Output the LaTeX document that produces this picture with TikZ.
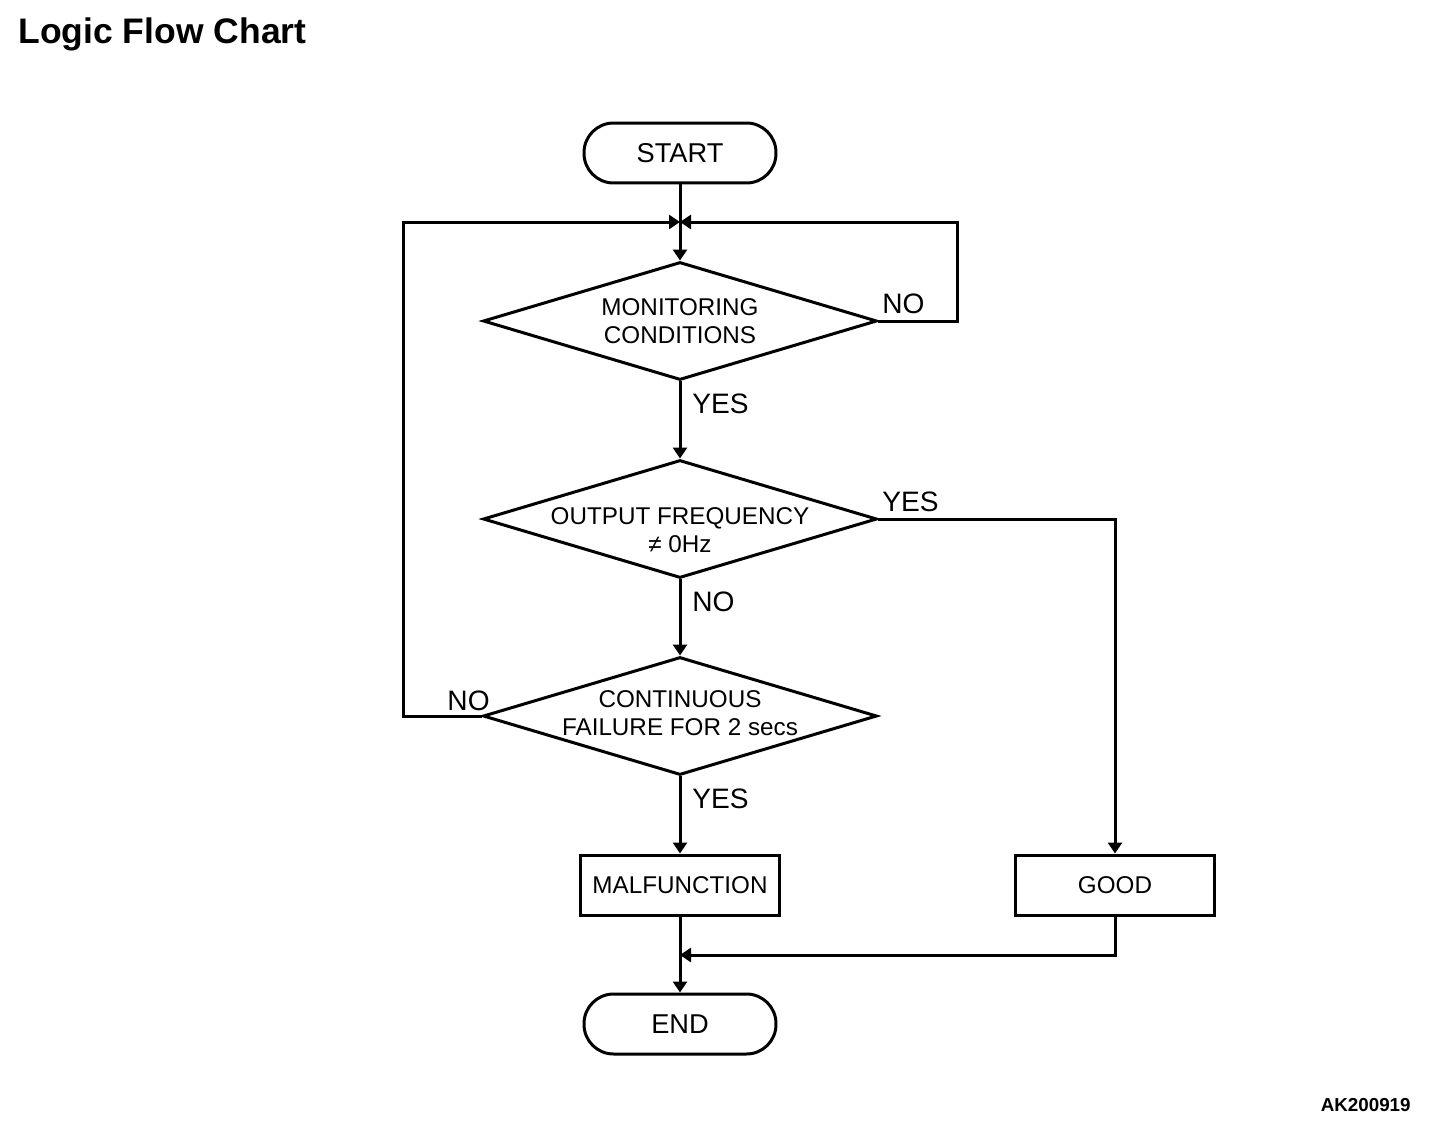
\documentclass[tikz,border=0pt]{standalone}
\usepackage{fontspec}
\setmainfont{Liberation Sans}
\usetikzlibrary{shapes.geometric,arrows.meta}

\tikzset{
	terminal/.style={draw,rounded corners=0.59cm,minimum width=3.84cm,minimum height=1.2cm,inner sep=0pt,font=\fontsize{15.5}{18}\selectfont},
	process/.style={draw,minimum width=3.98cm,minimum height=1.2cm,inner sep=0pt},
	decision/.style={draw,diamond,aspect=3.34,minimum width=7.88cm,minimum height=2.36cm,inner sep=0pt},
	question/.style={align=center,inner sep=0pt},
	answer/.style={font=\fontsize{16}{18}\selectfont},
	flow/.style={-{Triangle[length=0.22cm,width=0.28cm]}}
}

\begin{document}
\begin{tikzpicture}[x=0.02cm,y=-0.02cm,line width=0.06cm,font=\fontsize{13.8}{16}\selectfont]
	\useasboundingbox (0,0) rectangle (1456,1122);

	\node[anchor=west,inner sep=0pt,font=\fontsize{20.2}{24}\selectfont\bfseries] (title) at (17,34) {Logic Flow Chart};
	\node[anchor=east,font=\fontsize{10.7}{12}\selectfont\bfseries] (code) at (1418,1105) {AK200919};

	\node[terminal] (start) at (680,153) {START};
	\node[decision] (mon) at (680,321) {};
	\node[decision] (freq) at (680,519) {};
	\node[decision] (fail) at (680,716) {};
	\node[process] (malf) at (680,885) {MALFUNCTION};
	\node[process] (good) at (1115,885) {GOOD};
	\node[terminal] (end) at (680,1024) {END};

	\node[question] (montext) at (680,321) {MONITORING\\CONDITIONS};
	\node[question] (freqtext) at (680,530) {OUTPUT FREQUENCY\\≠ 0Hz};
	\node[question] (failtext) at (680,713) {CONTINUOUS\\FAILURE FOR 2 secs};

	\coordinate (top) at (680,222);
	\coordinate (rloop) at (957,222);
	\coordinate (lloop) at (403,222);
	\coordinate (join) at (680,955);

	\draw (start) -- (top);
	\draw[flow] (top) -- (mon.north);
	\draw[flow] (mon.east) -| (rloop) -- (top);
	\draw[flow] (fail.west) -| (lloop) -- (top);
	\draw[flow] (mon.south) -- (freq.north);
	\draw[flow] (freq.south) -- (fail.north);
	\draw[flow] (fail.south) -- (malf.north);
	\draw[flow] (freq.east) -| (good.north);
	\draw[flow] (malf.south) -- (end.north);
	\draw[flow] (good.south) |- (join);

	\node[answer,anchor=south west] (monno) at (875,321) {NO};
	\node[answer,anchor=north west] (monyes) at (685,387) {YES};
	\node[answer,anchor=south west] (freqyes) at (875,519) {YES};
	\node[answer,anchor=north west] (freqno) at (685,585) {NO};
	\node[answer,anchor=south east] (failno) at (497,718) {NO};
	\node[answer,anchor=north west] (failyes) at (685,782) {YES};
\end{tikzpicture}
\end{document}
